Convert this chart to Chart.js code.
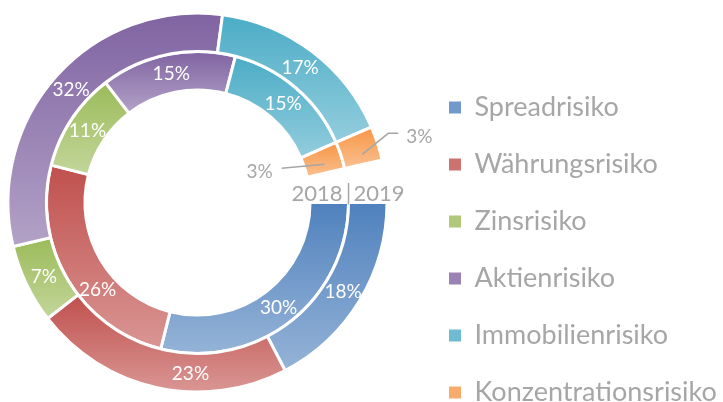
<!DOCTYPE html>
<html>
<head>
<meta charset="utf-8">
<script src="https://cdn.jsdelivr.net/npm/chart.js@4.4.1/dist/chart.umd.min.js"></script>
<style>
html,body{margin:0;padding:0;background:#fff;}
#wrap{width:723px;height:402px;position:relative;overflow:hidden;}
#c{position:absolute;left:-24px;top:0;}
</style>
</head>
<body>
<div id="wrap"><canvas id="c" width="800" height="405"></canvas></div>
<script>
// ---- data ----
const categories = ['Spreadrisiko', 'Währungsrisiko', 'Zinsrisiko', 'Aktienrisiko', 'Immobilienrisiko', 'Konzentrationsrisiko'];
const seriesNames = ['2019', '2018'];          // outer ring, inner ring
const values2019 = [18, 23, 7, 32, 17, 3];
const values2018 = [30, 26, 11, 15, 15, 3];

// ---- style ----
const baseColors  = ['#4F81BD', '#C0504D', '#9BBB59', '#8064A2', '#4BACC6', '#F79646'];
const lightColors = ['#95B3D7', '#D99694', '#C3D69B', '#B3A2C7', '#93CDDD', '#FAC090'];
const midColors   = ['#7299CA', '#CC7370', '#AFC87A', '#9983B4', '#6FBCD2', '#F8AB6B'];
const grayText = '#A6A6A6';
const FONT = 'Lato, "Open Sans", sans-serif';
const LEGEND_SIZE = 27, LEGEND_PAD = 30, BOX = 12;
const CHART_RIGHT = 443;   // right edge of the plot area in canvas px
// manual angular nudges (degrees) for labels moved in the original
const labelShift = { 0: { 1: -10 }, 1: { 1: -10 } };

function arcProps(arc) {
  return arc.getProps(['x', 'y', 'startAngle', 'endAngle', 'innerRadius', 'outerRadius'], true);
}

const gradientPlugin = {
  id: 'segGradient',
  beforeDatasetsDraw(chart) {
    const ctx = chart.ctx;
    chart.data.datasets.forEach((ds, di) => {
      const meta = chart.getDatasetMeta(di);
      meta.data.forEach((arc, i) => {
        const p = arcProps(arc);
        let minY = Infinity, maxY = -Infinity;
        const steps = 60;
        for (let s = 0; s <= steps; s++) {
          const a = p.startAngle + (p.endAngle - p.startAngle) * s / steps;
          [p.innerRadius, p.outerRadius].forEach(r => {
            const y = p.y + Math.sin(a) * r;
            if (y < minY) minY = y;
            if (y > maxY) maxY = y;
          });
        }
        const g = ctx.createLinearGradient(0, minY, 0, maxY);
        g.addColorStop(0, baseColors[i]);
        g.addColorStop(1, lightColors[i]);
        arc.options = Object.assign({}, arc.options, { backgroundColor: g });
      });
    });
  }
};

const labelPlugin = {
  id: 'ringLabels',
  afterDatasetsDraw(chart) {
    const ctx = chart.ctx;
    ctx.save();
    const last = categories.length - 1;
    chart.data.datasets.forEach((ds, di) => {
      const meta = chart.getDatasetMeta(di);
      meta.data.forEach((arc, i) => {
        const p = arcProps(arc);
        const shift = ((labelShift[di] || {})[i] || 0) * Math.PI / 180;
        const mid = (p.startAngle + p.endAngle) / 2 + shift;
        const rm = (p.innerRadius + p.outerRadius) / 2;
        const lx = p.x + Math.cos(mid) * rm;
        const ly = p.y + Math.sin(mid) * rm;
        const txt = ds.data[i] + '%';
        ctx.font = '19px ' + FONT;
        ctx.textBaseline = 'middle';
        if (i === last) {
          ctx.strokeStyle = grayText;
          ctx.lineWidth = 1.5;
          ctx.fillStyle = grayText;
          ctx.beginPath();
          if (di === 0) {
            ctx.moveTo(lx + 3, ly + 5);
            ctx.lineTo(lx + 29, ly - 16);
            ctx.lineTo(lx + 39, ly - 16);
            ctx.stroke();
            ctx.textAlign = 'left';
            ctx.fillText(txt, lx + 47, ly - 12);
          } else {
            ctx.moveTo(lx + 2, ly + 3);
            ctx.lineTo(lx - 41, ly + 7);
            ctx.stroke();
            ctx.textAlign = 'right';
            ctx.fillText(txt, lx - 50, ly + 11);
          }
        } else {
          ctx.fillStyle = '#FFFFFF';
          ctx.textAlign = 'center';
          ctx.fillText(txt, lx, ly + 1);
        }
      });
    });
    // series names in the gap of the rings
    const outer = arcProps(chart.getDatasetMeta(0).data[0]);
    const inner = arcProps(chart.getDatasetMeta(1).data[0]);
    const bx = outer.x + (outer.innerRadius + inner.outerRadius) / 2;
    const by = outer.y - 8.5;
    ctx.font = '22px ' + FONT;
    ctx.fillStyle = grayText;
    ctx.textBaseline = 'middle';
    ctx.textAlign = 'right';
    ctx.fillText(seriesNames[1], bx - 6, by);
    ctx.textAlign = 'left';
    ctx.fillText(seriesNames[0], bx + 5, by);
    ctx.strokeStyle = grayText;
    ctx.lineWidth = 1.5;
    ctx.beginPath();
    ctx.moveTo(bx, by - 11);
    ctx.lineTo(bx, outer.y + 2);
    ctx.stroke();
    ctx.restore();
  }
};

function make() {
  const canvas = document.getElementById('c');
  // measure the widest legend text to size the legend box exactly
  const mctx = canvas.getContext('2d');
  mctx.font = 'normal ' + LEGEND_SIZE + 'px ' + FONT;
  const maxText = Math.max(...categories.map(t => mctx.measureText(t).width));
  const legendWidth = LEGEND_PAD + BOX + LEGEND_SIZE / 2 + maxText + 10;
  const rightPad = Math.max(canvas.width - CHART_RIGHT - legendWidth, 0);

  new Chart(canvas, {
    type: 'doughnut',
    data: {
      labels: categories,
      datasets: [
        { label: seriesNames[0], data: values2019, backgroundColor: midColors, borderColor: '#FFFFFF', borderWidth: 3 },
        { label: seriesNames[1], data: values2018, backgroundColor: midColors, borderColor: '#FFFFFF', borderWidth: 3 }
      ]
    },
    options: {
      responsive: false,
      animation: false,
      events: [],
      rotation: 90,
      circumference: 347,
      radius: 189.5,
      cutout: '59.4%',
      layout: { padding: { left: 0, right: rightPad, top: -32, bottom: -31 } },
      plugins: {
        tooltip: { enabled: false },
        legend: {
          position: 'right',
          align: 'end',
          labels: {
            boxWidth: BOX,
            boxHeight: BOX,
            padding: LEGEND_PAD,
            color: grayText,
            font: { family: FONT, size: LEGEND_SIZE },
            generateLabels(chart) {
              return chart.data.labels.map((l, i) => ({
                text: l,
                fillStyle: midColors[i],
                strokeStyle: midColors[i],
                lineWidth: 0,
                fontColor: grayText,
                hidden: false,
                index: i
              }));
            }
          }
        }
      }
    },
    plugins: [gradientPlugin, labelPlugin]
  });
}

Promise.all([
  document.fonts.load('27px Lato'),
  document.fonts.load('19px Lato')
]).then(make, make);
</script>
</body>
</html>
